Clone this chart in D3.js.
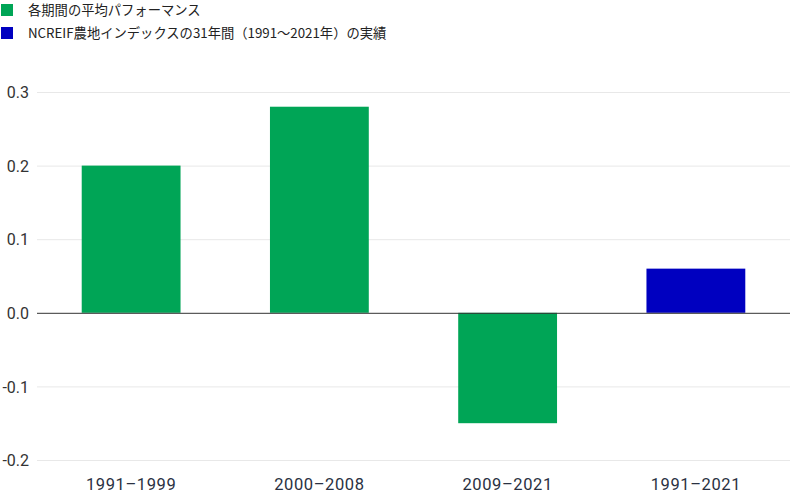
<!DOCTYPE html>
<html><head><meta charset="utf-8">
<script src="https://cdn.jsdelivr.net/npm/d3@7"></script>
<style>body{margin:0;background:#fff}svg{display:block}</style>
</head><body>
<svg id="c" width="790" height="493"></svg>
<script>
const categories = ["1991–1999", "2000–2008", "2009–2021", "1991–2021"];
const values = [0.20, 0.28, -0.15, 0.06];
const seriesOf = ["period", "period", "period", "index"];
const legendLabels = ["各期間の平均パフォーマンス", "NCREIF農地インデックスの31年間（1991～2021年）の実績"];
const yTicks = [-0.2, -0.1, 0.0, 0.1, 0.2, 0.3];

const colors = {period: "#00a556", index: "#0000c0"};
const svg = d3.select("#c");
const W = 790, H = 493;
const m = {l: 37, r: 0, t: 92, b: 33};
const x = d3.scaleBand().domain(categories).range([m.l, W - m.r]).paddingInner(0.475).paddingOuter(0.2375);
const y = d3.scaleLinear().domain([-0.2, 0.3]).range([460, 92]);

// gridlines
svg.append("g").selectAll("line").data(yTicks.filter(d => d !== 0)).join("line")
  .attr("x1", m.l).attr("x2", W).attr("y1", d => y(d) + 0.5).attr("y2", d => y(d) + 0.5)
  .attr("stroke", "#e8e8e8").attr("stroke-width", 1);

// y axis labels
const fmt = d3.format(".1f");
const yAxis = d3.axisLeft(y).tickValues(yTicks).tickFormat(d => fmt(d).replace("−", "-")).tickSize(0).tickPadding(0);
const ya = svg.append("g").attr("transform", `translate(29,0)`).call(yAxis);
ya.select(".domain").remove();
ya.selectAll("text").attr("font-family", "Roboto, 'Noto Sans', sans-serif").attr("font-size", 16).attr("fill", "#333").attr("text-anchor", "end").attr("dy", "0.36em");

// bars
svg.append("g").selectAll("rect").data(categories).join("rect")
  .attr("x", d => x(d)).attr("width", x.bandwidth())
  .attr("y", (d, i) => y(Math.max(0, values[i])))
  .attr("height", (d, i) => Math.abs(y(values[i]) - y(0)))
  .attr("fill", (d, i) => colors[seriesOf[i]]);

// zero line
svg.append("line").attr("x1", m.l).attr("x2", W).attr("y1", y(0) + 0.5).attr("y2", y(0) + 0.5)
  .attr("stroke", "#333").attr("stroke-width", 1);

// x axis labels
const xAxis = d3.axisBottom(x).tickSize(0).tickPadding(0);
const xa = svg.append("g").attr("transform", `translate(0,490)`).call(xAxis);
xa.select(".domain").remove();
xa.selectAll("text").attr("y", 0).attr("dy", 0).attr("font-family", "Roboto, 'Noto Sans', sans-serif").attr("font-size", 16.5).attr("fill", "#2a3142").attr("letter-spacing", 0.6);

// legend
const lg = svg.append("g");
const keys = ["period", "index"];
keys.forEach((k, i) => {
  lg.append("rect").attr("x", 1).attr("y", 4 + i * 23).attr("width", 12).attr("height", 12).attr("fill", colors[k]);
  lg.append("text").attr("x", 28).attr("y", 10 + i * 23).attr("dy", "0.35em")
    .attr("font-family", "'Noto Sans CJK JP', sans-serif").attr("font-size", 13.3).attr("fill", "#222")
    .text(legendLabels[i]);
});
</script>
</body></html>
